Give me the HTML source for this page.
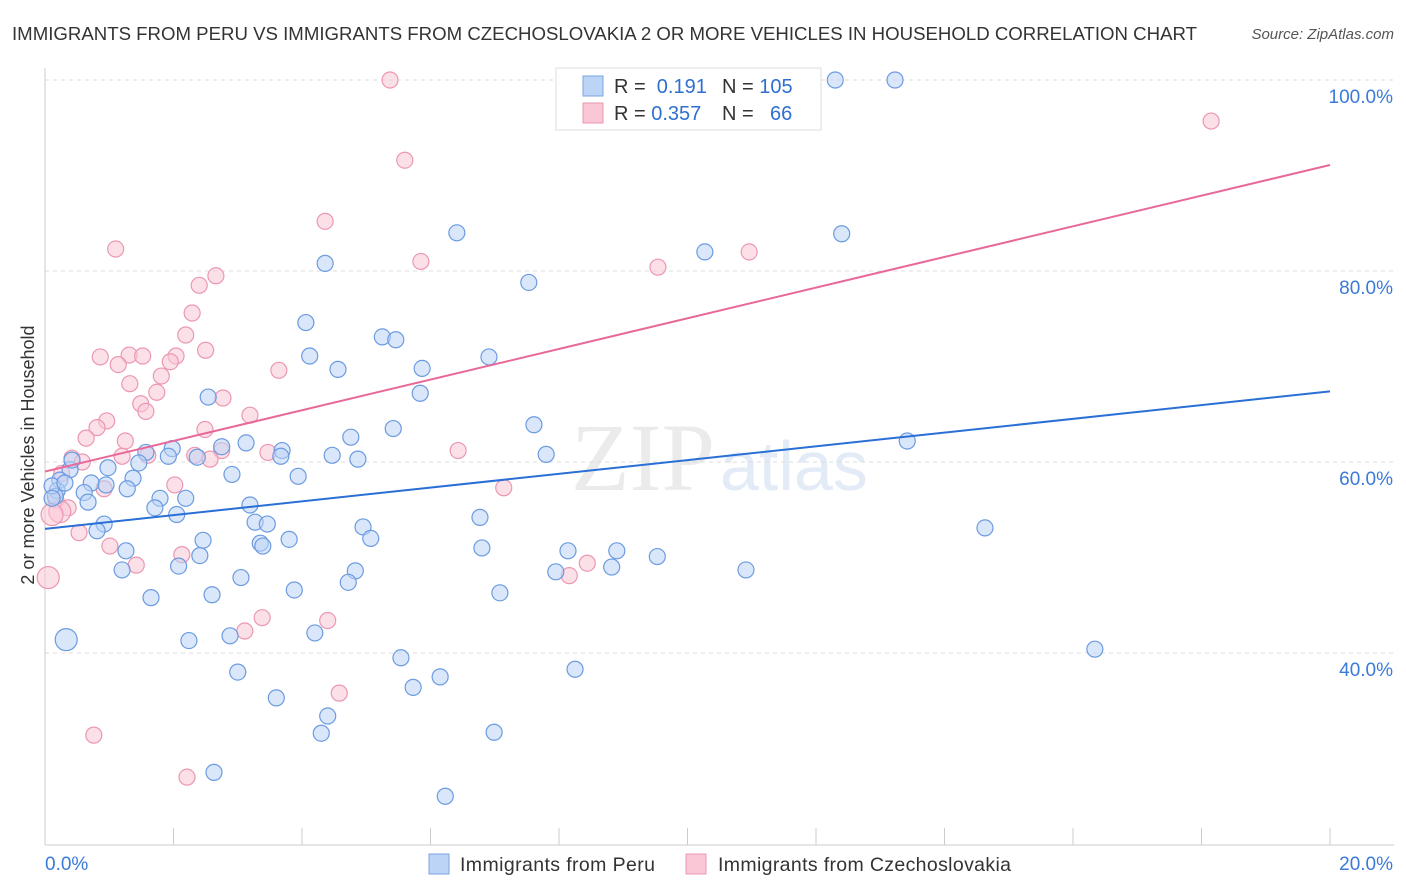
<!DOCTYPE html>
<html><head><meta charset="utf-8"><style>
body{margin:0;background:#fff;font-family:"Liberation Sans",sans-serif;}
#wrap{position:relative;width:1406px;height:892px;overflow:hidden;}
</style></head><body>
<div id="wrap">
<svg id="svg" width="1406" height="892" xmlns="http://www.w3.org/2000/svg">
<text x="12" y="40" font-size="18" fill="#333" textLength="1185" lengthAdjust="spacingAndGlyphs">IMMIGRANTS FROM PERU VS IMMIGRANTS FROM CZECHOSLOVAKIA 2 OR MORE VEHICLES IN HOUSEHOLD CORRELATION CHART</text>
<text x="1394" y="39" font-size="15" fill="#555" font-style="italic" text-anchor="end">Source: ZipAtlas.com</text>
<text x="715" y="490" font-size="96" fill="#ebebeb" text-anchor="end" font-family="Liberation Serif">ZIP</text>
<text x="720" y="490" font-size="70" fill="#e3ebf7">atlas</text>
<text transform="translate(34,455) rotate(-90)" font-size="18" fill="#333" text-anchor="middle">2 or more Vehicles in Household</text>
<g id="grid"></g><g id="marks"></g>
<g>
<rect x="556" y="68" width="265" height="62" fill="#fff" stroke="#ddd"/>
<rect x="583" y="76" width="20" height="20" fill="#bcd4f5" stroke="#7aa6e0"/>
<rect x="583" y="103" width="20" height="20" fill="#f9c7d6" stroke="#ec97b2"/>
<text x="614" y="93" font-size="20" fill="#333">R = <tspan fill="#2f6fd0">&#160;0.191</tspan><tspan x="722">N = </tspan><tspan fill="#2f6fd0">105</tspan></text>
<text x="614" y="120" font-size="20" fill="#333">R = <tspan fill="#2f6fd0">0.357</tspan><tspan x="722">N = </tspan><tspan fill="#2f6fd0" x="770">66</tspan></text>
</g>
<g>
<rect x="429" y="854" width="20" height="20" fill="#bcd4f5" stroke="#7aa6e0"/>
<text x="460" y="871" font-size="19.5" fill="#333" textLength="195">Immigrants from Peru</text>
<rect x="686" y="854" width="20" height="20" fill="#f9c7d6" stroke="#ec97b2"/>
<text x="718" y="871" font-size="19.5" fill="#333" textLength="293">Immigrants from Czechoslovakia</text>
</g>
</svg>
</div>
<script>
const yTicks=[100,80,60,40];
const xTickLabels=["0.0%","20.0%"];
const peruX=[12.3,13.23,6.41,12.4,10.27,4.36,7.53,4.06,5.25,5.46,4.12,6.91,4.56,5.87,5.84,2.54,7.61,5.42,4.76,13.42,3.13,2.75,3.69,1.98,1.57,1.92,2.37,3.67,4.47,4.87,7.8,1.46,0.98,0.39,2.91,3.94,1.37,0.23,0.72,0.95,1.28,0.19,0.61,0.16,1.79,2.19,0.67,3.19,1.71,2.05,6.77,3.27,3.46,0.92,4.95,0.81,5.07,2.46,3.8,3.35,3.39,1.26,6.8,8.14,8.9,9.53,14.63,2.41,2.08,8.82,10.91,1.2,7.95,4.83,3.05,4.72,3.88,7.08,2.6,1.65,0.33,4.2,2.88,2.24,16.34,5.54,8.25,3.0,6.15,5.73,3.6,4.4,4.3,6.99,2.63,6.23,0.11,0.11,0.31,0.42];
const peruY=[100,100,84.0,83.9,82.0,80.8,78.8,74.6,73.1,72.8,71.1,71.0,69.7,69.8,67.2,66.8,63.9,63.5,62.6,62.2,62.0,61.6,61.2,61.4,61.0,60.6,60.5,60.6,60.7,60.3,60.8,59.9,59.4,59.2,58.7,58.5,58.3,58.1,57.8,57.6,57.2,57.0,56.8,56.4,56.2,56.2,55.8,55.5,55.2,54.5,54.2,53.7,53.5,53.5,53.2,52.8,52.0,51.8,51.9,51.5,51.2,50.7,51.0,50.7,50.7,50.1,53.1,50.2,49.1,49.0,48.7,48.7,48.5,48.6,47.9,47.4,46.6,46.3,46.1,45.8,41.4,42.1,41.8,41.3,40.4,39.5,38.3,38.0,37.5,36.4,35.3,33.4,31.6,31.7,27.5,25.0,57.5,56.2,57.8,60.2];
const czX=[5.37,18.15,5.6,4.36,5.85,1.1,10.96,9.54,2.66,2.4,2.29,2.19,2.5,0.86,1.31,1.52,2.04,1.95,1.14,3.64,1.81,1.32,1.74,2.77,1.49,1.57,3.19,0.96,0.81,2.49,1.25,0.64,3.47,2.75,6.43,2.33,1.6,0.42,0.58,2.57,1.2,0.26,2.02,0.92,7.14,0.17,0.36,0.23,0.11,0.53,1.01,2.13,1.42,8.44,8.16,0.05,3.38,4.4,3.11,4.58,0.76,2.21];
const czY=[100,95.7,91.6,85.2,81.0,82.3,82.0,80.4,79.5,78.5,75.6,73.3,71.7,71.0,71.2,71.1,71.1,70.5,70.2,69.6,69.0,68.2,67.3,66.7,66.1,65.3,64.9,64.3,63.6,63.4,62.2,62.5,61.0,61.2,61.2,60.7,60.7,60.4,60.0,60.3,60.6,58.8,57.6,57.2,57.3,56.0,55.2,54.8,54.5,52.6,51.2,50.3,49.2,49.4,48.1,47.9,43.7,43.4,42.3,35.8,31.4,27.0];
const peruTrend=[53.0,67.4];
const czTrend=[59.0,91.1];
const NS="http://www.w3.org/2000/svg";
function sx(v){return 45+v/20*1285;}
function sy(v){return 80+(100-v)*9.55;}
function mk(tag,attrs,parent){const e=document.createElementNS(NS,tag);for(const k in attrs)e.setAttribute(k,attrs[k]);parent.appendChild(e);return e;}
const grid=document.getElementById('grid'),marks=document.getElementById('marks');
yTicks.forEach(t=>{
 const l=mk('line',{x1:45,x2:1394,y1:sy(t),y2:sy(t),stroke:'#ddd','stroke-dasharray':'4,4'},grid);
 
 
 const tx=mk('text',{x:1393,y:sy(t)+23,'font-size':19,fill:'#3b7ad8','text-anchor':'end'},grid);
 tx.textContent=t.toFixed(1)+'%';
 
 
});
const ax=mk('line',{x1:45,x2:1394,y1:845,y2:845,stroke:'#ccc'},grid);


const ay=mk('line',{x1:45,x2:45,y1:68,y2:845,stroke:'#ccc'},grid);


for(let i=0;i<=10;i++){
 const t=mk('line',{x1:sx(i*2),x2:sx(i*2),y1:828,y2:845,stroke:'#ccc'},grid);
 
 
}
const xl0=mk('text',{x:45,y:870,'font-size':19,fill:'#3b7ad8'},grid);xl0.textContent=xTickLabels[0];


const xl1=mk('text',{x:1393,y:870,'font-size':19,fill:'#3b7ad8','text-anchor':'end'},grid);xl1.textContent=xTickLabels[1];


function pts(xs,ys,fill,stroke,name){
 xs.forEach((x,i)=>{
  const big=(x<0.4&&(ys[i]<42||ys[i]<48&&name=='czech'||(ys[i]<55&&ys[i]>54&&name=='czech')));
  const c=mk('circle',{cx:sx(x),cy:sy(ys[i]),r:big?11:8,fill:fill,'fill-opacity':0.55,stroke:stroke,'stroke-width':1.2},marks);
  
  
 });
}
pts(czX,czY,'#f9c7d6','#ec97b2','czech');
pts(peruX,peruY,'#bcd4f5','#6b9be0','peru');
const t1=mk('line',{x1:sx(0),x2:sx(20),y1:sy(peruTrend[0]),y2:sy(peruTrend[1]),stroke:'#2a6fd6','stroke-width':2},marks);


const t2=mk('line',{x1:sx(0),x2:sx(20),y1:sy(czTrend[0]),y2:sy(czTrend[1]),stroke:'#e8689a','stroke-width':2},marks);


</script>
</body></html>
